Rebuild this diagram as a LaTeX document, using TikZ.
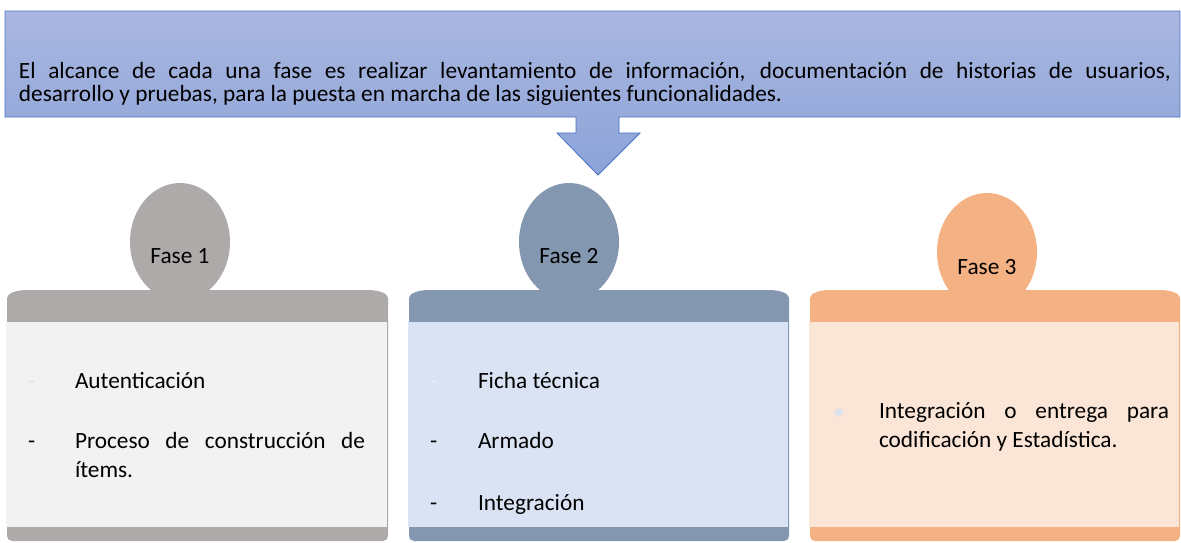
\documentclass[tikz,border=0pt]{standalone}
\usepackage{fontspec}
\setmainfont{Carlito}
\usetikzlibrary{shapes.geometric}
\definecolor{bannertop}{RGB}{170,183,224}
\definecolor{bannerbot}{RGB}{140,163,216}
\definecolor{bannerline}{RGB}{68,114,196}
\definecolor{grayDark}{RGB}{174,170,170}
\definecolor{grayLight}{RGB}{242,242,242}
\definecolor{blueDark}{RGB}{132,151,176}
\definecolor{blueLight}{RGB}{218,227,243}
\definecolor{orangeDark}{RGB}{244,177,131}
\definecolor{orangeLight}{RGB}{251,229,214}
\definecolor{faintGray}{RGB}{228,228,228}
\definecolor{faintBlue}{RGB}{232,237,247}
\definecolor{faintDot}{RGB}{221,227,236}
\newcommand\phasebox[4]{%
  \fill[#3] (#1,298) arc[start angle=180,end angle=270,x radius=20,y radius=8]
    -- (#2-20,290) arc[start angle=270,end angle=360,x radius=20,y radius=8]
    -- (#2,536) arc[start angle=0,end angle=90,radius=5]
    -- (#1+5,541) arc[start angle=90,end angle=180,radius=5] -- cycle;
  \fill[#4] (#1-1,322) rectangle (#2-1,527);
}
\hyphenpenalty=10000
\begin{document}
\begin{tikzpicture}[x=1pt,y=-1pt,
  lbl/.style={inner sep=0pt, outer sep=0pt, font=\fontsize{23.3}{29}\selectfont, text=black},
  phase/.style={ellipse, inner sep=0pt, minimum width=100pt, minimum height=118pt, draw=none}]
\useasboundingbox (0,0) rectangle (1181,542);
% banner callout
\shadedraw[top color=bannertop, bottom color=bannerbot, draw=bannerline, line width=0.8pt]
  (5,11) -- (1180,11) -- (1180,117) -- (619,117) -- (619,133) -- (640,133)
  -- (598,175) -- (557,133) -- (576,133) -- (576,117) -- (5,117) -- cycle;
\node[lbl, font=\fontsize{23.3}{23}\selectfont, text width=1152pt, align=justify, anchor=base west] (intro) at (19,78)
  {El alcance de cada una fase es realizar levantamiento de información, documentación de historias de usuarios,\linebreak desarrollo y pruebas, para la puesta en marcha de las siguientes funcionalidades.};
% phase ellipses
\node[phase, fill=grayDark] (e1) at (180,242) {};
\node[phase, fill=blueDark] (e2) at (569,242) {};
\node[phase, fill=orangeDark] (e3) at (987,252) {};
% boxes
\phasebox{7}{388}{grayDark}{grayLight}
\phasebox{409}{789}{blueDark}{blueLight}
\phasebox{810}{1180}{orangeDark}{orangeLight}
% phase titles
\node[lbl, anchor=base] (f1) at (180,263) {Fase 1};
\node[lbl, anchor=base] (f2) at (569,263) {Fase 2};
\node[lbl, anchor=base] (f3) at (987,274) {Fase 3};
% box 1
\node[lbl, anchor=base west, text=faintGray] (b1d1) at (28,388) {-};
\node[lbl, anchor=base west] (b1t1) at (75,388) {Autenticación};
\node[lbl, anchor=base west] (b1d2) at (28,448) {-};
\node[lbl, anchor=base west, text width=290pt, align=justify] (b1t2) at (75,448) {Proceso de construcción de\linebreak ítems.};
% box 2
\node[lbl, anchor=base west, text=faintBlue] (b2d1) at (430,388) {-};
\node[lbl, anchor=base west] (b2t1) at (478,388) {Ficha técnica};
\node[lbl, anchor=base west] (b2d2) at (430,448) {-};
\node[lbl, anchor=base west] (b2t2) at (478,448) {Armado};
\node[lbl, anchor=base west] (b2d3) at (430,510) {-};
\node[lbl, anchor=base west] (b2t3) at (478,510) {Integración};
% box 3
\node[lbl, anchor=base west, text=faintDot] (b3d1) at (833,419) {•};
\node[lbl, anchor=base west, text width=290pt, align=justify] (b3t1) at (879,418) {Integración o entrega para\linebreak codificación y Estadística.};
\end{tikzpicture}
\end{document}
